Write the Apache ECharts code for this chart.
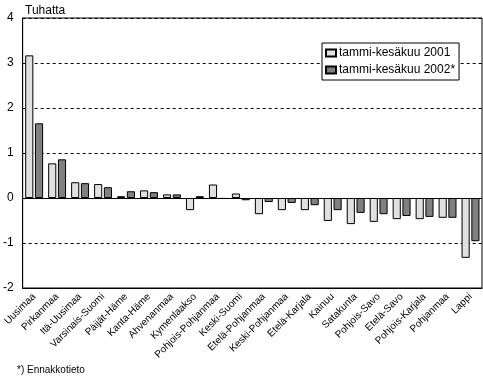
<!DOCTYPE html>
<html><head><meta charset="utf-8">
<script src="https://cdn.jsdelivr.net/npm/echarts@6/dist/echarts.min.js"></script>
<style>html,body{margin:0;padding:0;background:#fff}#c{width:483px;height:376px}</style>
</head><body><div id="c"></div>
<script>
const categories = ["Uusimaa","Pirkanmaa","Itä-Uusimaa","Varsinais-Suomi","Päijät-Häme","Kanta-Häme","Ahvenanmaa","Kymenlaakso","Pohjois-Pohjanmaa","Keski-Suomi","Etelä-Pohjanmaa","Keski-Pohjanmaa","Etelä-Karjala","Kainuu","Satakunta","Pohjois-Savo","Etelä-Savo","Pohjois-Karjala","Pohjanmaa","Lappi"];
const values2001 = [3.17,0.77,0.35,0.31,0.04,0.17,0.08,-0.27,0.30,0.10,-0.36,-0.27,-0.27,-0.51,-0.58,-0.53,-0.47,-0.47,-0.44,-1.33];
const values2002 = [1.66,0.86,0.33,0.24,0.15,0.13,0.08,0.04,-0.02,-0.05,-0.09,-0.11,-0.16,-0.27,-0.33,-0.36,-0.40,-0.42,-0.44,-0.96];
const seriesNames = ["tammi-kesäkuu 2001","tammi-kesäkuu 2002*"];
const yTicks = [-2,-1,0,1,2,3,4];
const F = "Arial, 'Liberation Sans', sans-serif";
const chart = echarts.init(document.getElementById('c'));
chart.setOption({
  animation:false,
  grid:{left:22,right:1,top:18,bottom:88,show:true,borderColor:'#000',borderWidth:1},
  title:{text:'Tuhatta',left:20,top:0,textStyle:{fontFamily:F,fontSize:12,fontWeight:'normal',color:'#000'}},
  graphic:[{type:'text',left:17,top:365,style:{text:'*) Ennakkotieto',font:'10px '+F,fill:'#000'}}],
  legend:{left:322,top:43,orient:'vertical',itemWidth:10,itemHeight:7,itemGap:5,
    padding:[4,4,4,3],borderColor:'#000',borderWidth:1,backgroundColor:'#fff',
    textStyle:{fontFamily:F,fontSize:12,color:'#000',padding:[0,0,0,-2]},
    data:seriesNames.map(n=>({name:n,icon:'rect'}))},
  xAxis:{type:'category',data:categories,axisLine:{onZero:false,lineStyle:{color:'#000'}},axisTick:{show:false},
    axisLabel:{rotate:45,interval:0,fontFamily:F,fontSize:10,color:'#000',margin:7}},
  yAxis:{type:'value',min:yTicks[0],max:yTicks[yTicks.length-1],interval:1,
    axisLine:{show:true,lineStyle:{color:'#000'}},axisTick:{show:false},
    axisLabel:{fontFamily:F,fontSize:12,color:'#000',margin:9},
    splitLine:{lineStyle:{color:'#000',type:[3,3],width:1}}},
  series:[
    {name:seriesNames[0],type:'bar',data:values2001,barGap:'20%',barCategoryGap:'22%',
     itemStyle:{color:'#e0e0e0',borderColor:'#000',borderWidth:1},
     markLine:{silent:true,symbol:'none',label:{show:false},lineStyle:{color:'#000',type:'solid',width:1},data:[{yAxis:0}]}},
    {name:seriesNames[1],type:'bar',data:values2002,
     itemStyle:{color:'#808080',borderColor:'#000',borderWidth:1}}
  ]
});
</script></body></html>
